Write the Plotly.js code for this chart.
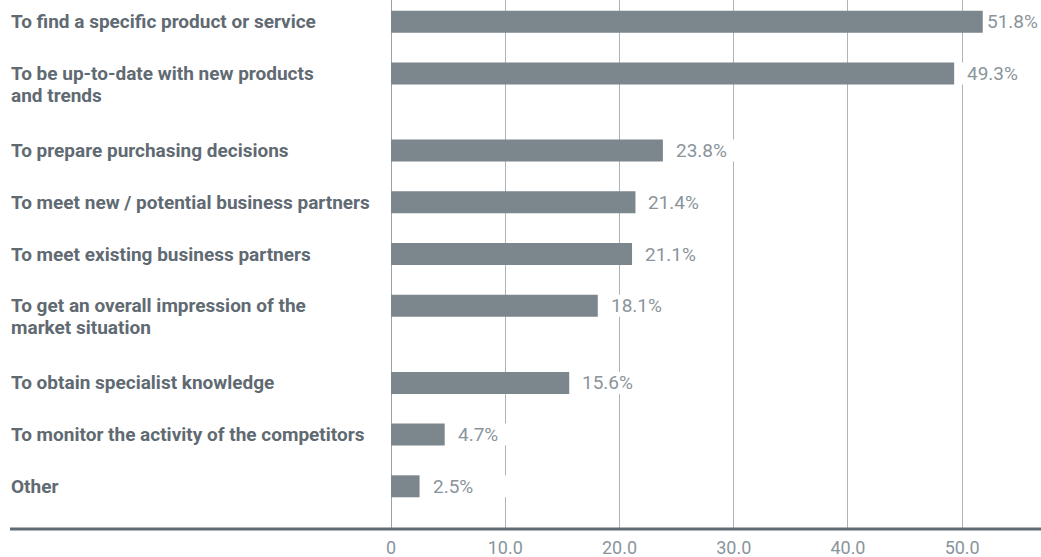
<!DOCTYPE html>
<html>
<head>
<meta charset="utf-8">
<script src="https://cdn.plot.ly/plotly-3.0.1.min.js"></script>
<style>
  html, body { margin: 0; padding: 0; background: #ffffff; }
  #chart { width: 1041px; height: 557px; }
</style>
</head>
<body>
<div id="chart"></div>
<script>
const categories = [
  "To find a specific product or service",
  "To be up-to-date with new products<br>and trends",
  "To prepare purchasing decisions",
  "To meet new / potential business partners",
  "To meet existing business partners",
  "To get an overall impression of the<br>market situation",
  "To obtain specialist knowledge",
  "To monitor the activity of the competitors",
  "Other"
];
const values = [51.8, 49.3, 23.8, 21.4, 21.1, 18.1, 15.6, 4.7, 2.5];
const tickValues = [0, 10, 20, 30, 40, 50];
const tickLabels = ["0", "10.0", "20.0", "30.0", "40.0", "50.0"];

// layout-derived slot positions: two-line labels take extra room
const positions = [];
let p = 0;
categories.forEach(c => {
  positions.push(p);
  const lines = c.split("<br>").length;
  p += 1 + (lines - 1) * 0.493;
});

const barColor = "#7b868d";
const labelColor = "#5f6a72";
const valueColor = "#8a949b";
const gridColor = "#adb3b8";
const barHalf = 0.2125;
const W = 1041, marginL = 391, xMax = 56.9;
const pxPerUnit = (W - marginL) / xMax;
const valueFont = { family: "Roboto, sans-serif", size: 19, color: valueColor };

// measure label widths so no value label runs past the right edge
const ctx = document.createElement("canvas").getContext("2d");
ctx.font = "19px Roboto";

const trace = {
  type: "bar",
  orientation: "h",
  x: values,
  y: positions,
  width: barHalf * 2,
  marker: { color: barColor },
  hoverinfo: "skip"
};

const shapes = values.map((v, i) => ({
  type: "rect",
  xref: "x", yref: "y",
  xsizemode: "pixel", xanchor: v,
  x0: 0, x1: 90,
  y0: positions[i] - barHalf, y1: positions[i] + barHalf,
  fillcolor: "#ffffff",
  line: { width: 0 },
  layer: "between"
}));
shapes.push({
  type: "line",
  xref: "paper", yref: "paper",
  x0: (10 - marginL) / (W - marginL), x1: 1,
  y0: 0, y1: 0,
  line: { color: "#5f6b73", width: 3 },
  layer: "above"
});

const annotations = [];
values.forEach((v, i) => {
  const txt = v.toFixed(1) + "%";
  const w = ctx.measureText(txt).width;
  const room = (xMax - v) * pxPerUnit - w - 4;
  annotations.push({
    xref: "x", yref: "y",
    x: v, y: positions[i],
    xanchor: "left", yanchor: "middle",
    xshift: Math.min(12, room),
    text: txt,
    showarrow: false,
    borderpad: 0,
    font: valueFont
  });
});
categories.forEach((c, i) => {
  c.split("<br>").forEach((line, k) => {
    annotations.push({
      xref: "paper", yref: "y",
      x: (10 - marginL) / (W - marginL), y: positions[i],
      xanchor: "left", yanchor: "middle",
      yshift: -22 * k,
      align: "left",
      borderpad: 0,
      text: "<b>" + line + "</b>",
      showarrow: false,
      font: { family: "Roboto, sans-serif", size: 19, color: labelColor }
    });
  });
});

const layout = {
  width: W,
  height: 557,
  margin: { l: marginL, r: 0, t: 0, b: 28, pad: 0 },
  paper_bgcolor: "#ffffff",
  plot_bgcolor: "#ffffff",
  showlegend: false,
  xaxis: {
    range: [0, xMax],
    tickvals: tickValues,
    ticktext: tickLabels,
    showgrid: true,
    gridcolor: gridColor,
    gridwidth: 1,
    zeroline: true,
    zerolinecolor: "#9aa2a8",
    zerolinewidth: 1,
    showline: false,
    ticks: "",
    ticklabelstandoff: 6,
    tickfont: { family: "Roboto, sans-serif", size: 18, color: valueColor },
    fixedrange: true
  },
  yaxis: {
    range: [9.812, -0.42],
    showgrid: false,
    zeroline: false,
    showticklabels: false,
    ticks: "",
    showline: false,
    fixedrange: true
  },
  shapes: shapes,
  annotations: annotations
};

Plotly.newPlot("chart", [trace], layout, { displayModeBar: false, staticPlot: true });
</script>
</body>
</html>
